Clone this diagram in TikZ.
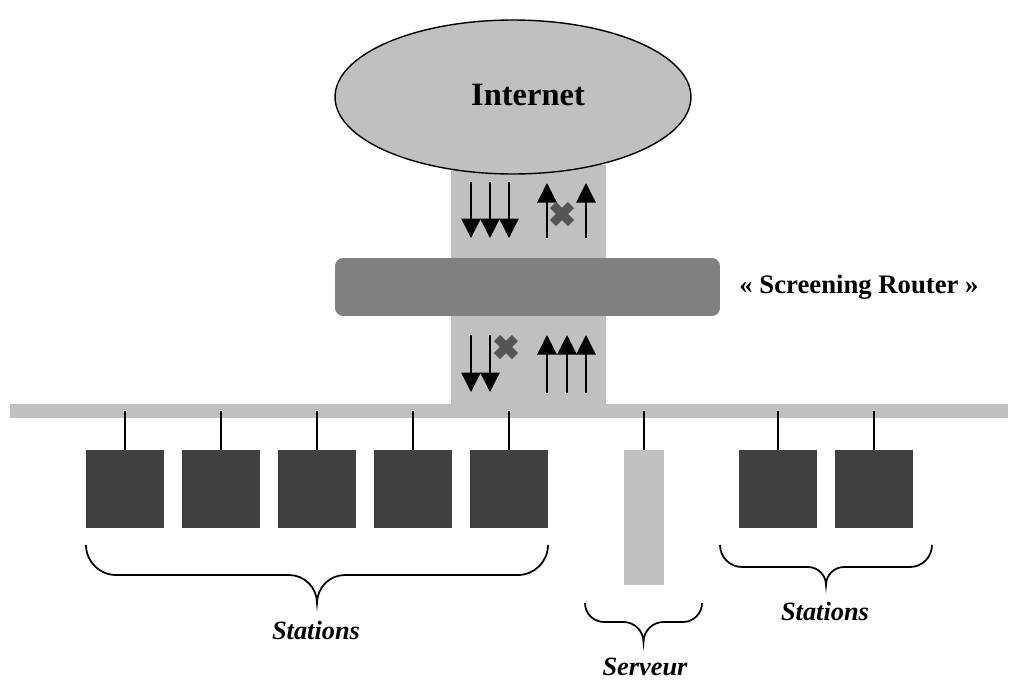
\documentclass[tikz,border=0pt]{standalone}
\usepackage{fontspec}
\setmainfont{Liberation Serif}
\usetikzlibrary{arrows.meta,shapes.geometric}
\definecolor{lgray}{HTML}{C0C0C0}
\definecolor{mgray}{HTML}{808080}
\definecolor{dgray}{HTML}{404040}
\definecolor{xgray}{HTML}{555555}
\newcommand\mybrace[5]{%
 \pgfmathsetmacro\bxm{(#1+#2)/2}%
 \pgfmathsetmacro\br{#4-#3}%
 \pgfmathsetmacro\bs{#5-#4}%
 \draw[braceline] (#1,#3) .. controls (#1,#3+0.55*\br) and (#1+0.45*\br,#4) .. (#1+\br,#4)
   -- (\bxm-\bs,#4) .. controls (\bxm-0.45*\bs,#4) and (\bxm,#4+0.45*\bs) .. (\bxm,#5)
   .. controls (\bxm,#4+0.45*\bs) and (\bxm+0.45*\bs,#4) .. (\bxm+\bs,#4)
   -- (#2-\br,#4) .. controls (#2-0.45*\br,#4) and (#2,#3+0.55*\br) .. (#2,#3);}
\tikzset{
  braceline/.style={line width=1pt},
  station/.style={rectangle,fill=dgray,draw=none,inner sep=0,minimum width=1.56cm,minimum height=1.56cm},
  drop/.style={line width=0.9pt},
  flow/.style={line width=0.7pt,-{Triangle[width=0.39cm,length=0.39cm]}},
  block/.style={draw=xgray,line width=5pt},
  lbl/.style={font=\fontsize{15}{18}\selectfont\bfseries\itshape,inner sep=0,anchor=base},
}
\begin{document}
\begin{tikzpicture}[x=0.02cm,y=-0.02cm]
\useasboundingbox (0,0) rectangle (1019,680);
% gray band and bus
\node[rectangle,fill=lgray,inner sep=0,minimum width=3.1cm,minimum height=5.06cm] (band) at (528.5,291.5) {};
\node[rectangle,fill=lgray,inner sep=0,minimum width=19.96cm,minimum height=0.28cm] (bus) at (509,411) {};
% internet
\node[ellipse,fill=lgray,draw=black,line width=0.8pt,inner sep=0,minimum width=7.12cm,minimum height=3.08cm] (inet) at (513,97) {};
\node[font=\fontsize{18.5}{22}\selectfont\bfseries,inner sep=0,anchor=base] (inettxt) at (528,105) {Internet};
% router
\node[rectangle,rounded corners=0.16cm,fill=mgray,inner sep=0,minimum width=7.7cm,minimum height=1.16cm] (router) at (527.5,287) {};
\node[font=\fontsize{15.2}{18}\selectfont\bfseries,inner sep=0,anchor=base] (routertxt) at (859,293) {« Screening Router »};
% upper arrows
\draw[flow] (471,182) -- (471,238);
\draw[flow] (490,182) -- (490,238);
\draw[flow] (509,182) -- (509,238);
\draw[flow] (547,238) -- (547,183);
\draw[flow] (586,238) -- (586,183);
\draw[block] (553,205) -- (571,223) (553,223) -- (571,205);
% lower arrows
\draw[flow] (471,335) -- (471,392);
\draw[flow] (490,335) -- (490,392);
\draw[flow] (547,393) -- (547,335);
\draw[flow] (567,393) -- (567,335);
\draw[flow] (586,393) -- (586,335);
\draw[block] (497,338) -- (515,356) (497,356) -- (515,338);
% stations
\foreach \n/\x in {1/125,2/221,3/317,4/413,5/509,6/778,7/874}{
  \node[station] (s\n) at (\x,489) {};
  \draw[drop] (s\n.north) -- (s\n.north |- bus.center);
}
\node[rectangle,fill=lgray,inner sep=0,minimum width=0.8cm,minimum height=2.7cm] (srv) at (644,517.5) {};
\draw[drop] (srv.north) -- (srv.north |- bus.center);
% braces
\mybrace{86}{548}{545}{575}{603}
\mybrace{720}{932}{545}{567}{585}
\mybrace{585}{702}{603}{622}{642}
\node[lbl] (l1) at (316,639) {Stations};
\node[lbl] (l2) at (825,620) {Stations};
\node[lbl] (l3) at (645,675) {Serveur};
\end{tikzpicture}
\end{document}
